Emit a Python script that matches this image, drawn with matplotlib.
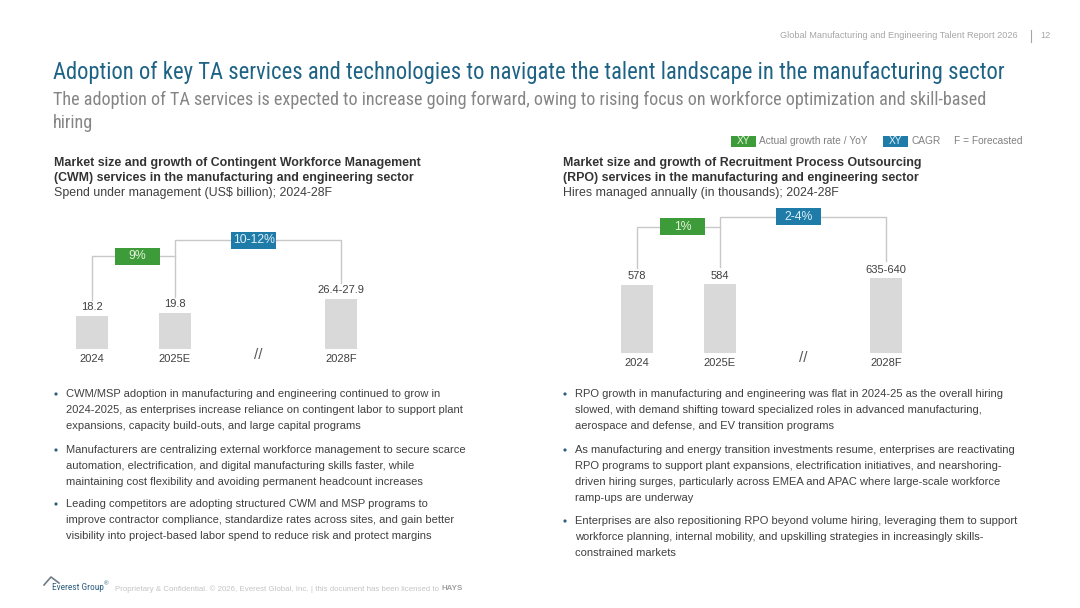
import matplotlib
matplotlib.use("Agg")
import matplotlib.pyplot as plt
from matplotlib import font_manager
from matplotlib.patches import Rectangle, Circle

# ---- data ----
years = ["2024", "2025E", "2028F"]
xpos = [0, 1, 3]  # 2028F sits after the "//" break

cwm_low = [18.2, 19.8, 26.4]
cwm_high = [18.2, 19.8, 27.9]
cwm_labels = ["18.2", "19.8", "26.4-27.9"]
cwm_yoy = "9%"
cwm_cagr = "10-12%"

rpo_low = [578, 584, 635]
rpo_high = [578, 584, 640]
rpo_labels = ["578", "584", "635-640"]
rpo_yoy = "1%"
rpo_cagr = "2-4%"

cwm_title = ["Market size and growth of Contingent Workforce Management",
             "(CWM) services in the manufacturing and engineering sector"]
cwm_sub = "Spend under management (US$ billion); 2024-28F"
rpo_title = ["Market size and growth of Recruitment Process Outsourcing",
             "(RPO) services in the manufacturing and engineering sector"]
rpo_sub = "Hires managed annually (in thousands); 2024-28F"

cwm_bullets = [
    ["CWM/MSP adoption in manufacturing and engineering continued to grow in",
     "2024-2025, as enterprises increase reliance on contingent labor to support plant",
     "expansions, capacity build-outs, and large capital programs"],
    ["Manufacturers are centralizing external workforce management to secure scarce",
     "automation, electrification, and digital manufacturing skills faster, while",
     "maintaining cost flexibility and avoiding permanent headcount increases"],
    ["Leading competitors are adopting structured CWM and MSP programs to",
     "improve contractor compliance, standardize rates across sites, and gain better",
     "visibility into project-based labor spend to reduce risk and protect margins"],
]
rpo_bullets = [
    ["RPO growth in manufacturing and engineering was flat in 2024-25 as the overall hiring",
     "slowed, with demand shifting toward specialized roles in advanced manufacturing,",
     "aerospace and defense, and EV transition programs"],
    ["As manufacturing and energy transition investments resume, enterprises are reactivating",
     "RPO programs to support plant expansions, electrification initiatives, and nearshoring-",
     "driven hiring surges, particularly across EMEA and APAC where large-scale workforce",
     "ramp-ups are underway"],
    ["Enterprises are also repositioning RPO beyond volume hiring, leveraging them to support",
     "workforce planning, internal mobility, and upskilling strategies in increasingly skills-",
     "constrained markets"],
]

# ---- styles ----
GREEN = "#3E9B3A"
BLUE = "#1F7CA8"
BAR = "#D9D9D9"
LINE = "#C8C8C8"
TXT = "#404040"
SANS = ["Liberation Sans", "DejaVu Sans"]

# slide title font is a narrow sans; use one if the box has it
installed = {f.name for f in font_manager.fontManager.ttflist}
narrow = next((n for n in ["Liberation Sans Narrow", "Arial Narrow", "Roboto Condensed",
                           "Noto Sans Condensed", "Open Sans Condensed", "DejaVu Sans Condensed"]
               if n in installed), "Liberation Sans")
NARROW = [narrow, "Liberation Sans", "DejaVu Sans"]

plt.rcParams["font.family"] = SANS

fig = plt.figure(figsize=(10.8, 6.08), dpi=100)
fig.patch.set_facecolor("white")
renderer = fig.canvas.get_renderer()

# overlay axes in pixel coordinates for slide text
ov = fig.add_axes([0, 0, 1, 1])
ov.set_xlim(0, 1080)
ov.set_ylim(608, 0)
ov.axis("off")


def fit_text(t, width_px):
    # shrink a text until it spans width_px
    w = t.get_window_extent(renderer).width
    if w > width_px:
        t.set_fontsize(t.get_fontsize() * width_px / w)
    return t


def right_of(t):
    bb = t.get_window_extent(renderer)
    return ov.transData.inverted().transform((bb.x1, bb.y0))[0]


ov.text(1018, 36, "Global Manufacturing and Engineering Talent Report 2026",
        ha="right", va="center", fontsize=6.6, color="#A6A6A6")
ov.plot([1031, 1031], [30, 42], color="#A6A6A6", lw=0.8)
ov.text(1040, 36, "12", ha="left", va="center", fontsize=6.6, color="#A6A6A6")

t = ov.text(53, 73, "Adoption of key TA services and technologies to navigate the talent landscape in the manufacturing sector",
            ha="left", va="center", fontsize=16.5, color="#1E6385", family=NARROW)
fit_text(t, 949)
t = ov.text(53, 100, "The adoption of TA services is expected to increase going forward, owing to rising focus on workforce optimization and skill-based",
            ha="left", va="center", fontsize=13.5, color="#858585", family=NARROW)
fit_text(t, 936)
ov.text(53, 123, "hiring", ha="left", va="center", fontsize=t.get_fontsize(), color="#858585", family=NARROW)

# legend
ov.add_patch(Rectangle((731, 136), 25, 11, fc=GREEN, ec="none"))
ov.text(743.5, 141.5, "XY", ha="center", va="center", fontsize=7.3, color="#E4F3DC")
ov.text(759, 141.5, "Actual growth rate / YoY", ha="left", va="center", fontsize=7.3, color="#808080")
ov.add_patch(Rectangle((883, 136), 25, 11, fc=BLUE, ec="none"))
ov.text(895.5, 141.5, "XY", ha="center", va="center", fontsize=7.3, color="#DDEFF8")
ov.text(912, 141.5, "CAGR", ha="left", va="center", fontsize=7.3, color="#808080")
ov.text(954, 141.5, "F = Forecasted", ha="left", va="center", fontsize=7.3, color="#808080")

# chart headings
for x0, title, sub in [(54, cwm_title, cwm_sub), (563, rpo_title, rpo_sub)]:
    ov.text(x0, 163, title[0], ha="left", va="center", fontsize=8.9, fontweight="bold", color="#333333")
    ov.text(x0, 178, title[1], ha="left", va="center", fontsize=8.9, fontweight="bold", color="#333333")
    ov.text(x0, 193, sub, ha="left", va="center", fontsize=8.9, color="#404040")

# bullets
for x0, bullets, starts in [(54, cwm_bullets, [394, 450, 504]),
                            (563, rpo_bullets, [394, 450, 521])]:
    for lines, y0 in zip(bullets, starts):
        ov.add_patch(Circle((x0 + 2, y0), 1.6, fc="#2F5F7F", ec="none"))
        for i, ln in enumerate(lines):
            ov.text(x0 + 12, y0 + i * 16, ln, ha="left", va="center", fontsize=8.0, color=TXT)

# footer
ov.plot([44, 51, 59], [585, 577, 583], color="#6F7C86", lw=1.2)
t = ov.text(52, 588, "Everest Group", ha="left", va="center", fontsize=9, color="#2D5F7F", family=NARROW)
fit_text(t, 52)
ov.text(right_of(t) + 0.5, 584, "®", ha="left", va="center", fontsize=4.5, color="#2D5F7F")
t = ov.text(115, 589, "Proprietary & Confidential. © 2026, Everest Global, Inc. | this document has been licensed to",
            ha="left", va="center", fontsize=5.7, color="#C4C4C4")
fit_text(t, 320)
ov.text(right_of(t) + 2, 589, "HAYS", ha="left", va="center", fontsize=t.get_fontsize(),
        color="#A0A0A0", fontweight="bold")


def px_axes(left, right, base_px, ppu, ylo, yhi, x0_px):
    # place an axes so bars sit at known pixel spots: 83 px per x unit, ppu px per value unit
    height = (yhi - ylo) * ppu
    bottom_px = base_px - ylo * ppu
    ax = fig.add_axes([left / 1080, (608 - bottom_px) / 608, (right - left) / 1080, height / 608])
    ax.set_xlim((left - x0_px) / 83, (right - x0_px) / 83)
    ax.set_ylim(ylo, yhi)
    ax.axis("off")
    ax.patch.set_alpha(0)
    return ax


def draw_chart(ax, low, high, labels, yoy, cagr, yoy_lvl, cagr_lvl, gap, box_h):
    heights = [(a + b) / 2 for a, b in zip(low, high)]
    ax.bar(xpos, heights, width=0.39, color=BAR, zorder=2)
    for x, h, lab, cat in zip(xpos, heights, labels, years):
        ax.annotate(lab, (x, h), xytext=(0, 6.2), textcoords="offset points",
                    ha="center", va="center", fontsize=8, color=TXT, annotation_clip=False)
        ax.annotate(cat, (x, 0), xytext=(0, -7.5), textcoords="offset points",
                    ha="center", va="center", fontsize=8, color=TXT, annotation_clip=False)
    ax.annotate("//", (2, 0), xytext=(0, -4), textcoords="offset points",
                ha="center", va="center", fontsize=11, color="#595959", annotation_clip=False)
    top = [h + gap for h in heights]
    ax.plot([xpos[0], xpos[0], xpos[1]], [top[0], yoy_lvl, yoy_lvl], color=LINE, lw=1, zorder=1)
    ax.plot([xpos[1], xpos[1], xpos[2], xpos[2]], [top[1], cagr_lvl, cagr_lvl, top[2]],
            color=LINE, lw=1, zorder=1)
    for cx, cy, txt, fc, tc in [(0.55, yoy_lvl, yoy, GREEN, "#E4F3DC"),
                                (1.95, cagr_lvl, cagr, BLUE, "#DDEFF8")]:
        ax.add_patch(Rectangle((cx - 0.27, cy - box_h / 2), 0.54, box_h, fc=fc, ec="none", zorder=3))
        ax.text(cx, cy, txt, ha="center", va="center", fontsize=8.8, color=tc, zorder=4)


ax1 = px_axes(50, 450, 349, 1.84, -12, 80, 92)
draw_chart(ax1, cwm_low, cwm_high, cwm_labels, cwm_yoy, cwm_cagr, 50.5, 59.2, 8.5, 9.2)

ax2 = px_axes(560, 1000, 352.7, 0.117, -110, 1300, 637)
draw_chart(ax2, rpo_low, rpo_high, rpo_labels, rpo_yoy, rpo_cagr, 1077, 1162, 145, 145)

fig.savefig("out.png", dpi=100, facecolor="white")
